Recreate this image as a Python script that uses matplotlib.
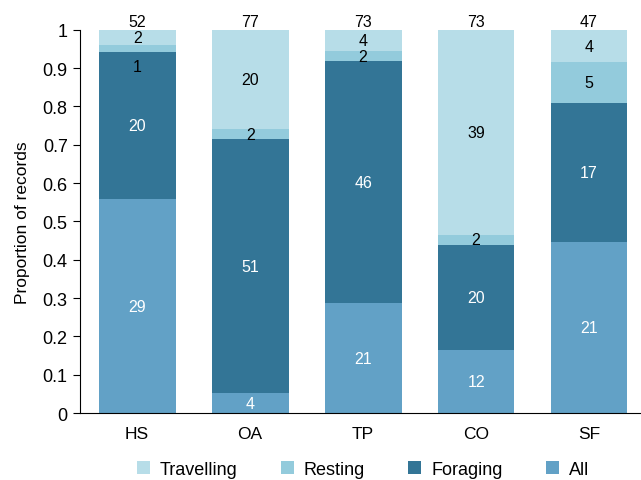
import matplotlib
matplotlib.use("Agg")
import matplotlib.pyplot as plt
import numpy as np

plt.rcParams['font.family'] = ['Liberation Sans', 'DejaVu Sans']

sites = ["HS", "OA", "TP", "CO", "SF"]
all_counts = [29, 4, 21, 12, 21]
foraging = [20, 51, 46, 20, 17]
resting = [1, 2, 2, 2, 5]
travelling = [2, 20, 4, 39, 4]
yticks = [0, 0.1, 0.2, 0.3, 0.4, 0.5, 0.6, 0.7, 0.8, 0.9, 1]
ytick_labels = ["0", "0.1", "0.2", "0.3", "0.4", "0.5", "0.6", "0.7", "0.8", "0.9", "1"]

col_all = "#62a1c6"
col_for = "#337596"
col_res = "#93cbdc"
col_tra = "#b7dde8"

fig = plt.figure(figsize=(6.41, 4.81), dpi=100)
ax = fig.add_axes([0.125, 0.139, 0.875, 0.797])

x = np.arange(len(sites))
totals = np.array(all_counts) + np.array(foraging) + np.array(resting) + np.array(travelling)
series = [("All", all_counts, col_all, "white"),
          ("Foraging", foraging, col_for, "white"),
          ("Resting", resting, col_res, "black"),
          ("Travelling", travelling, col_tra, "black")]
width = 0.68
bottom = np.zeros(len(sites))
handles = {}
for name, vals, col, tcol in series:
    p = np.array(vals) / totals
    b = ax.bar(x, p, width, bottom=bottom, color=col, edgecolor='none')
    handles[name] = b
    for i in range(len(sites)):
        yc = bottom[i] + p[i] / 2
        if name == "Resting" and sites[i] == "HS":
            yc = bottom[i] - 0.037
        ax.text(x[i], yc, str(vals[i]), ha='center', va='center', color=tcol, fontsize=11.5)
    bottom = bottom + p

for i in range(len(sites)):
    ax.text(x[i], 1.003, str(totals[i]), ha='center', va='bottom', fontsize=11.5)

ax.set_xlim(-0.505, 4.46)
ax.set_ylim(0, 1)
ax.set_yticks(yticks)
ax.set_yticklabels(ytick_labels, fontsize=13)
ax.set_xticks(x)
ax.set_xticklabels(sites, fontsize=12.5)
ax.tick_params(axis='x', length=0, pad=9)
ax.tick_params(axis='y', length=5, width=0.8, pad=4)
ax.spines['top'].set_visible(False)
ax.spines['right'].set_visible(False)
ax.set_ylabel("Proportion of records", fontsize=12.5, labelpad=9)

order = ["Travelling", "Resting", "Foraging", "All"]
fig.legend([handles[k] for k in order], order, loc='center', ncol=4,
           bbox_to_anchor=(0.566, 0.022), frameon=False, fontsize=13,
           handlelength=0.72, handleheight=0.72, columnspacing=2.4, handletextpad=0.55)

fig.savefig("out.png", dpi=100)
